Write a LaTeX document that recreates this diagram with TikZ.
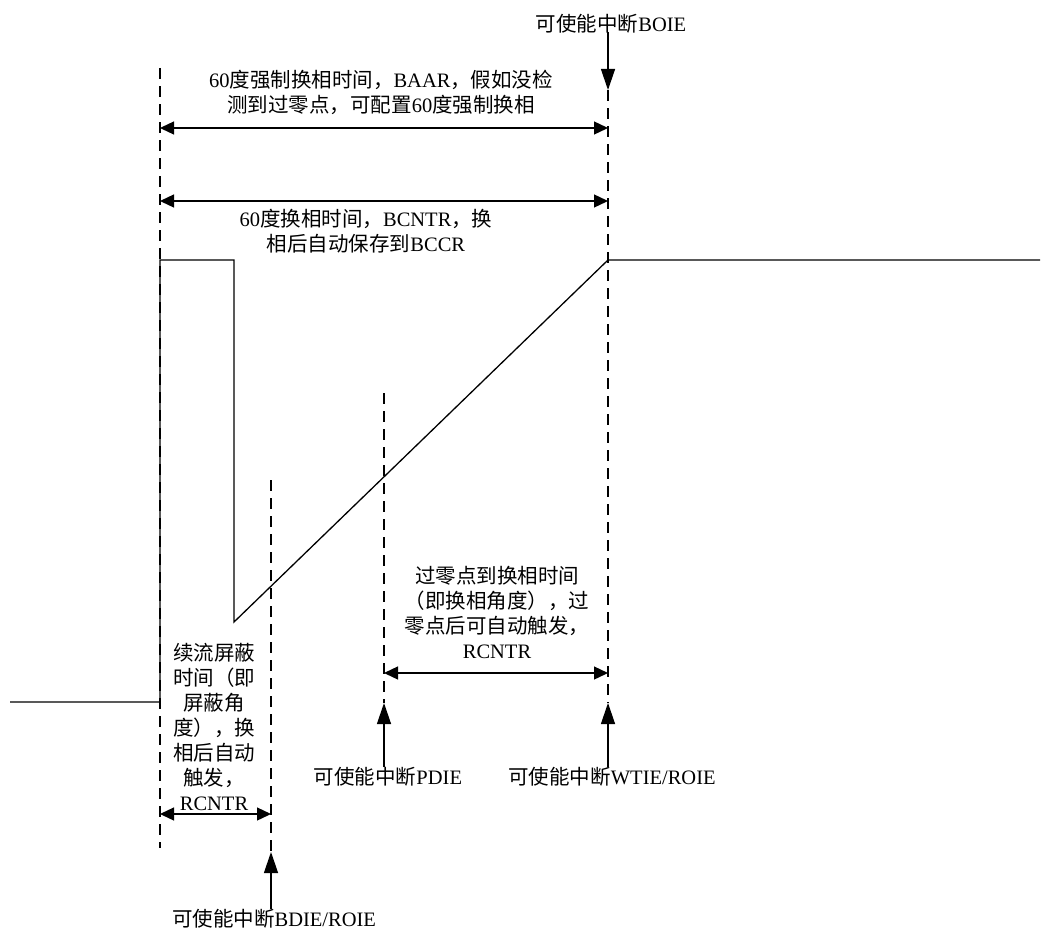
\documentclass[tikz,border=0pt]{standalone}
\usepackage{fontspec}
\setmainfont{Noto Sans CJK SC}
\newfontfamily\latinfont{Liberation Serif}
\newcommand{\lat}[1]{{\latinfont #1}}
\usetikzlibrary{positioning,arrows.meta}

\begin{document}
\begin{tikzpicture}[
x=1pt, y=-1pt,
lbl/.style={align=center, font=\fontsize{20.5}{25}\selectfont, inner sep=0pt},
arr/.style={-{Triangle[length=21pt,width=14pt]}, line width=1.3pt},
dim/.style={{Triangle[length=14pt,width=13pt]}-{Triangle[length=14pt,width=13pt]}, line width=1.3pt},
guide/.style={line width=1.3pt, dash pattern=on 11pt off 7pt},
sig/.style={line width=1.3pt}
]
\useasboundingbox (0,0) rectangle (1049,934);
% waveform
\coordinate (lo) at (10,702);
\coordinate (rise) at (160,702);
\coordinate (hiA) at (160,260);
\coordinate (hiB) at (234,260);
\coordinate (dip) at (234,622);
\coordinate (peak) at (608,260);
\coordinate (hiEnd) at (1040,260);
\draw[sig] (lo) -- (rise) -- (hiA) -- (hiB) -- (dip) -- (peak) -- (hiEnd);
% dashed guides
\coordinate (gCt) at (160,68);   \coordinate (gCb) at (160,848);
\coordinate (gBt) at (271,480);  \coordinate (gBb) at (271,852);
\coordinate (gPt) at (384,393);  \coordinate (gPb) at (384,703);
\coordinate (gWt) at (608,90);   \coordinate (gWb) at (608,703);
\draw[guide] (gCt) -- (gCb);
\draw[guide] (gBt) -- (gBb);
\draw[guide] (gPt) -- (gPb);
\draw[guide] (gWt) -- (gWb);
% spans
\node[lbl] (forced) at (381,92) {\lat{60}度强制换相时间，\lat{BAAR}，假如没检\\测到过零点，可配置\lat{60}度强制换相};
\draw[dim] (gCt |- 0,128) -- (gWt |- 0,128);
\node[lbl] (bcntr) at (366,231) {\lat{60}度换相时间，\lat{BCNTR}，换\\相后自动保存到\lat{BCCR}};
\draw[dim] (gCt |- 0,201) -- (gWt |- 0,201);
\node[lbl] (blank) at (214,727) {续流屏蔽\\时间（即\\屏蔽角\\度），换\\相后自动\\触发，\\\lat{RCNTR}};
\draw[dim] (gCt |- 0,814) -- (gBt |- 0,814);
\node[lbl] (zc) at (497,612) {过零点到换相时间\\（即换相角度），过\\零点后可自动触发，\\\lat{RCNTR}};
\draw[dim] (gPt |- 0,673) -- (gWt |- 0,673);
% interrupt enables
\node[lbl] (boie) at (611,24) {可使能中断\lat{BOIE}};
\draw[arr] (gWt |- 0,32) -- (gWt);
\node[lbl] (pdie) at (388,777) {可使能中断\lat{PDIE}};
\draw[arr] (gPb |- pdie.north) -- (gPb);
\node[lbl] (wtie) at (612,777) {可使能中断\lat{WTIE/ROIE}};
\draw[arr] (gWb |- wtie.north) -- (gWb);
\node[lbl] (bdie) at (274,919) {可使能中断\lat{BDIE/ROIE}};
\draw[arr] (gBb |- bdie.north) -- (gBb);
\end{tikzpicture}
\end{document}
